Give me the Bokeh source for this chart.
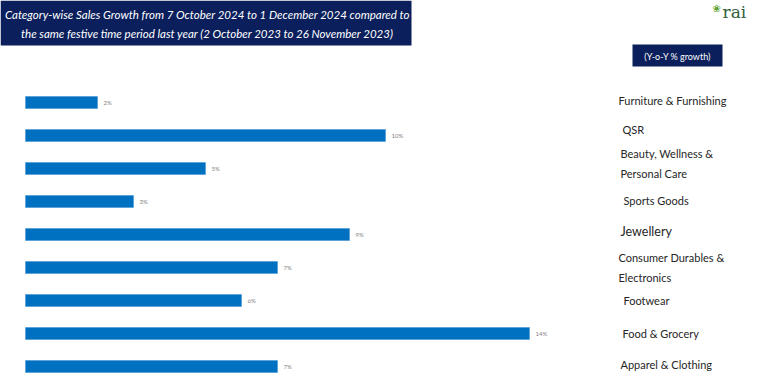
from bokeh.plotting import figure
from bokeh.models import Range1d, ColumnDataSource
from bokeh.core.properties import value
from bokeh.embed import file_html
from bokeh.resources import INLINE

categories = [
    "Furniture &  Furnishing",
    "QSR",
    "Beauty, Wellness &\nPersonal Care",
    "Sports Goods",
    "Jewellery",
    "Consumer Durables &\nElectronics",
    "Footwear",
    "Food & Grocery",
    "Apparel & Clothing",
]
growth = [2, 10, 5, 3, 9, 7, 6, 14, 7]
value_labels = ["2%", "10%", "5%", "3%", "9%", "7%", "6%", "14%", "7%"]

title_lines = [
    "Category-wise Sales Growth from 7 October 2024 to 1 December 2024 compared to",
    "the same festive time period last year (2 October 2023 to 26 November 2023)",
]
unit_label = "(Y-o-Y % growth)"

# style (label nudges / sizes), not data
label_dy = [-2, -6, -5, -1, -3, 0, 0, 0, -2]
label_dx = [0, 4, 2, 5, 2, 0, 5, 4, 2]
label_fs = ["11px", "11px", "11px", "11px", "12.5px", "11px", "11px", "11px", "11px"]

W, H = 752, 374
X0, XS = 25, 36.0      # px of zero, px per percent
R0, RS = 102, 33.0     # px of first row, px per row


def px(x):
    return (x - X0) / XS


def py(y):
    return (y - R0) / RS


p = figure(width=W, height=H, output_backend="svg", toolbar_location=None,
           x_range=Range1d(px(0), px(W)),
           y_range=Range1d(py(H), py(0)),
           min_border=0, outline_line_color=None)
p.axis.visible = False
p.grid.visible = False
p.background_fill_color = "white"
p.border_fill_color = "white"

idx = list(range(len(categories)))
src = ColumnDataSource(dict(y=idx, v=growth, lab=value_labels, cat=categories,
                            dy=label_dy, dx=label_dx, fs=label_fs))

p.hbar(y="y", left=0, right="v", height=12 / RS, source=src,
       fill_color="#0070C0", line_color="#4a97d4", line_width=0.6)

p.text(x="v", y="y", text="lab", source=src, x_offset=6,
       text_font=value("Lato"), text_font_size="6px", text_color="#7f7f7f",
       text_baseline="middle", text_align="left")

p.text(x=px(618), y="y", text="cat", source=src, x_offset="dx", y_offset="dy",
       text_font=value("Lato"), text_font_size="fs", text_color="#262626",
       text_baseline="middle", text_align="left", text_line_height=1.5)

# title box
p.quad(left=px(0), right=px(411), top=py(0), bottom=py(45),
       fill_color="#0B1F5C", line_color=None)
p.text(x=[px(207)] * 2, y=[py(14), py(33)], text=title_lines,
       text_font=value("Lato"), text_font_style="italic",
       text_font_size="11.5px", text_color="white",
       text_baseline="middle", text_align="center")

# unit box
p.quad(left=px(632), right=px(722), top=py(44), bottom=py(66),
       fill_color="#0B1F5C", line_color=None)
p.text(x=[px(677)], y=[py(56)], text=[unit_label],
       text_font=value("Lato"), text_font_size="9px", text_color="white",
       text_baseline="middle", text_align="center")

# logo
p.text(x=[px(722)], y=[py(11)], text=["rai"],
       text_font=value("DejaVu Serif"), text_font_size="17px",
       text_color="#2f5f3a", text_baseline="middle", text_align="left")
p.text(x=[px(712)], y=[py(8)], text=["\u2740"],
       text_font=value("DejaVu Sans"), text_font_size="10px",
       text_color="#5aa02c", text_baseline="middle", text_align="left")

open("out.html", "w").write(file_html(p, INLINE))
